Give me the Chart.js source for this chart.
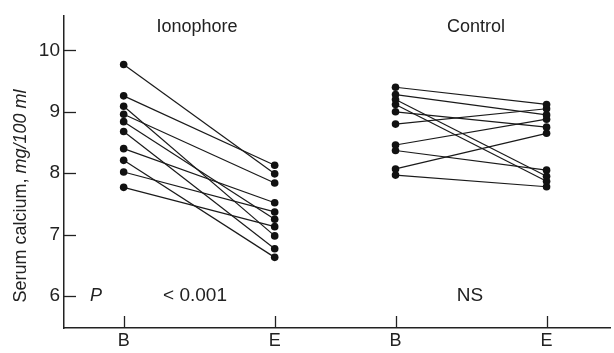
<!DOCTYPE html>
<html>
<head>
<meta charset="utf-8">
<script src="https://cdn.jsdelivr.net/npm/chart.js@4"></script>
<style>
  html, body { margin: 0; padding: 0; background: #fff; }
  #wrap { width: 614px; height: 353px; }
</style>
</head>
<body>
<div id="wrap"><canvas id="calciumChart"></canvas></div>
<script>
// serum calcium (mg/100 ml), one entry per subject, before (B) and end (E)
const ionophoreBefore = [9.77, 9.26, 9.09, 8.96, 8.84, 8.68, 8.40, 8.21, 8.02, 7.77]
const ionophoreEnd    = [7.99, 8.13, 6.98, 7.84, 7.25, 6.77, 7.52, 6.63, 7.37, 7.13]
const controlBefore   = [9.40, 9.28, 9.20, 9.12, 9.00, 8.80, 8.46, 8.37, 8.07, 7.97]
const controlEnd      = [9.12, 8.95, 7.95, 7.87, 8.75, 9.05, 8.88, 8.05, 8.65, 7.78]

const groups = ["Ionophore", "Control"]
const phaseLabels = ["B", "E", "B", "E"]
const pValues = ["< 0.001", "NS"]
const yTicks = [6, 7, 8, 9, 10]

// where each B/E column sits on the x axis
const xPos = [0, 1, 1.8, 2.8]

const FONT = "'Liberation Sans', Arial, sans-serif"

function pairs(before, end, xb, xe) {
  return before.map((b, i) => ({
    data: [{ x: xb, y: b }, { x: xe, y: end[i] }],
    borderColor: "#1a1a1a",
    borderWidth: 1.2,
    pointRadius: 3.8,
    pointBackgroundColor: "#111",
    pointBorderWidth: 0,
    showLine: true
  }))
}

const datasets = [
  ...pairs(ionophoreBefore, ionophoreEnd, xPos[0], xPos[1]),
  ...pairs(controlBefore, controlEnd, xPos[2], xPos[3])
]

const annotations = {
  id: "annotations",
  afterDraw(chart) {
    const { ctx, scales: { x, y }, chartArea } = chart
    ctx.save()
    ctx.strokeStyle = "#222"
    ctx.lineWidth = 1.3

    // inward tick marks
    yTicks.forEach((v) => {
      const py = Math.round(y.getPixelForValue(v)) + 0.5
      ctx.beginPath()
      ctx.moveTo(chartArea.left, py)
      ctx.lineTo(chartArea.left + 12, py)
      ctx.stroke()
    })
    xPos.forEach((v) => {
      const px = Math.round(x.getPixelForValue(v)) + 0.5
      ctx.beginPath()
      ctx.moveTo(px, chartArea.bottom)
      ctx.lineTo(px, chartArea.bottom - 12)
      ctx.stroke()
    })

    ctx.fillStyle = "#222"
    ctx.textBaseline = "middle"
    ctx.textAlign = "center"
    ctx.font = "18px " + FONT
    ctx.fillText(groups[0], 197, 27)
    ctx.fillText(groups[1], 476, 27)

    const pY = y.getPixelForValue(6)
    ctx.font = "italic 18px " + FONT
    ctx.fillText("P", 96, pY)
    ctx.font = "19px " + FONT
    ctx.fillText(pValues[0], 195, pY)
    ctx.fillText(pValues[1], 470, pY)

    // y axis title with italic unit
    ctx.translate(21, 196)
    ctx.rotate(-Math.PI / 2)
    const part1 = "Serum calcium, "
    const part2 = "mg/100 ml"
    ctx.font = "18px " + FONT
    const w1 = ctx.measureText(part1).width
    ctx.font = "italic 18px " + FONT
    const w2 = ctx.measureText(part2).width
    ctx.textAlign = "left"
    ctx.font = "18px " + FONT
    ctx.fillText(part1, -(w1 + w2) / 2, 0)
    ctx.font = "italic 18px " + FONT
    ctx.fillText(part2, -(w1 + w2) / 2 + w1, 0)
    ctx.restore()
  }
}

new Chart(document.getElementById("calciumChart"), {
  type: "scatter",
  data: { datasets: datasets },
  plugins: [annotations],
  options: {
    responsive: true,
    maintainAspectRatio: false,
    animation: false,
    layout: { padding: { top: 15, right: 0, left: 0, bottom: 0 } },
    plugins: { legend: { display: false }, tooltip: { enabled: false } },
    scales: {
      x: {
        type: "linear",
        min: -0.395,
        max: 3.22,
        afterBuildTicks: (scale) => { scale.ticks = xPos.map((v) => ({ value: v })) },
        afterFit: (scale) => { scale.height = 25 },
        grid: { display: false, drawTicks: false },
        border: { display: true, color: "#222", width: 1.5 },
        ticks: {
          padding: 2,
          color: "#222",
          font: { family: FONT, size: 18 },
          callback: (v, i) => phaseLabels[i]
        }
      },
      y: {
        min: 5.48,
        max: 10.57,
        afterBuildTicks: (scale) => { scale.ticks = yTicks.map((v) => ({ value: v })) },
        afterFit: (scale) => { scale.width = 64 },
        grid: { display: false, drawTicks: false },
        border: { display: true, color: "#222", width: 1.5 },
        ticks: {
          padding: 4,
          color: "#222",
          font: { family: FONT, size: 19 }
        }
      }
    }
  }
})
</script>
</body>
</html>
